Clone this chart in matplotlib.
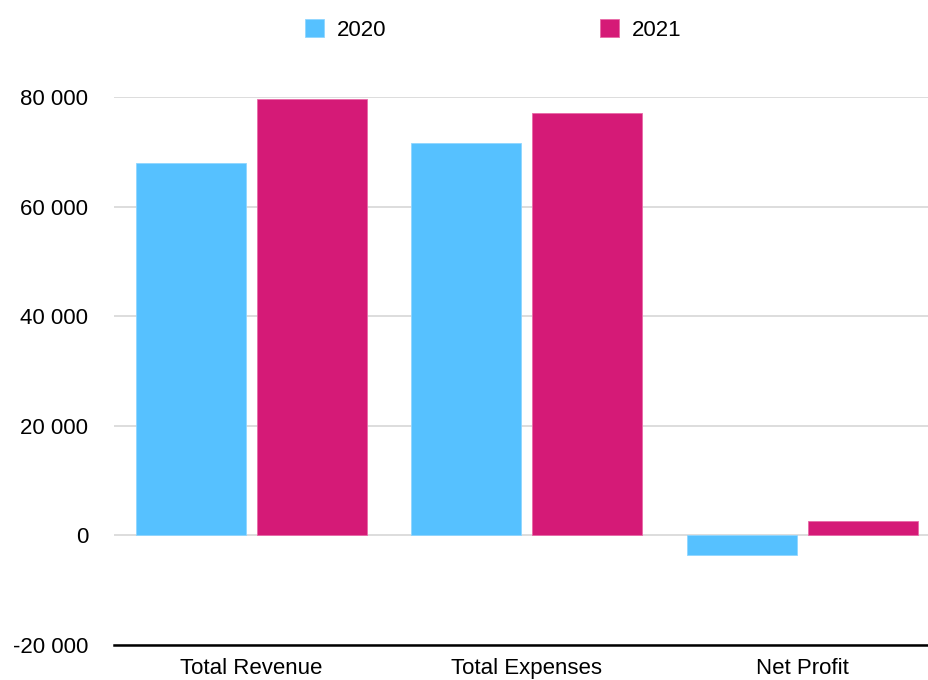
import matplotlib
matplotlib.use("Agg")
import matplotlib.pyplot as plt
from matplotlib.ticker import FuncFormatter
from matplotlib.patches import Patch
import numpy as np

categories = ["Total Revenue", "Total Expenses", "Net Profit"]
series_names = ["2020", "2021"]
values_2020 = [68000, 71600, -3500]
values_2021 = [79700, 77100, 2600]
y_ticks = [-20000, 0, 20000, 40000, 60000, 80000]

color_2020 = "#56C1FF"
color_2021 = "#D51A77"

plt.rcParams["font.family"] = ["Liberation Sans", "DejaVu Sans"]

fig = plt.figure(figsize=(9.29, 6.80), dpi=100)
ax = fig.add_axes([113.75 / 929, 35 / 680, 826.5 / 929, (645 - 97) / 680])

x = np.arange(len(categories))
w = 110 / 275.5
off = (55 + 5.5) / 275.5
ax.bar(x - off, values_2020, width=w, color=color_2020, edgecolor="#8fd6ff", linewidth=0.6, zorder=3)
ax.bar(x + off, values_2021, width=w, color=color_2021, edgecolor="#e86aa8", linewidth=0.6, zorder=3)

ax.set_xlim(-0.5, 2.5)
ax.set_ylim(-20000, 80000)
ax.set_yticks(y_ticks)
ax.yaxis.set_major_formatter(FuncFormatter(lambda v, p: f"{int(v):,}".replace(",", " ")))
ax.set_xticks(x)
ax.set_xticklabels(categories)
ax.tick_params(axis="y", length=0, pad=18.5, labelsize=16)
ax.tick_params(axis="x", length=0, pad=9.5, labelsize=16)
ax.grid(axis="y", color="#d3d3d3", linewidth=1.1, zorder=0)
for s in ["top", "right", "left"]:
    ax.spines[s].set_visible(False)
ax.spines["bottom"].set_linewidth(1.8)
ax.spines["bottom"].set_color("black")
ax.spines["bottom"].set_zorder(4)

handles = [Patch(facecolor=color_2020, edgecolor="#8fd6ff", linewidth=0.6),
           Patch(facecolor=color_2021, edgecolor="#e86aa8", linewidth=0.6)]
fig.legend(handles, series_names, loc="center", bbox_to_anchor=(0.531, 1 - 30 / 680),
           ncol=2, frameon=False, fontsize=16, handlelength=0.85, handleheight=0.85,
           handletextpad=0.6, columnspacing=9.6)

fig.savefig("out.png", dpi=100)
